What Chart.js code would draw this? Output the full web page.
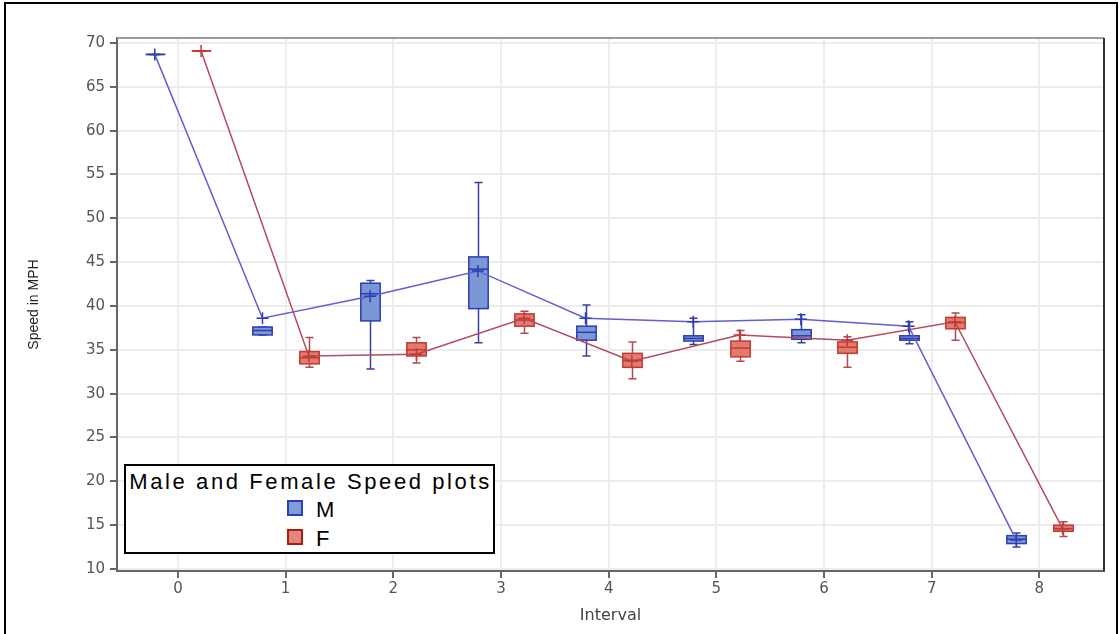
<!DOCTYPE html>
<html><head><meta charset="utf-8">
<script src="https://cdn.jsdelivr.net/npm/chart.js@4/dist/chart.umd.min.js"></script>
<style>
html,body{margin:0;padding:0;background:#fff;overflow:hidden}
#wrap{position:relative;width:1119px;height:634px;overflow:hidden}
#frame{position:absolute;left:4px;top:2px;width:1114px;height:660px;border:2px solid #000;box-sizing:border-box}
#c{position:absolute;left:0;top:0}
#legend{position:absolute;left:124px;top:464px;width:371px;height:90px;border:2px solid #000;box-sizing:border-box;background:#fff;font-family:Arial,"Liberation Sans",sans-serif;color:#000}
#legend .t{position:absolute;left:0;top:3px;width:100%;text-align:center;font-size:22px;letter-spacing:2.6px;white-space:nowrap;text-indent:2px}
#legend .it{position:absolute;left:161px;font-size:22px;line-height:22px}
#legend .sw{display:inline-block;width:12px;height:12px;border:2px solid;vertical-align:middle;margin-right:13px;position:relative;top:-3px}
</style></head>
<body>
<div id="wrap">
<canvas id="c" width="1119" height="634"></canvas>
<div id="frame"></div>
<div id="legend">
  <div class="t">Male and Female Speed plots</div>
  <div class="it" style="top:33px"><span class="sw" style="background:#7f9ed8;border-color:#2a3fb8"></span>M</div>
  <div class="it" style="top:62px"><span class="sw" style="background:#e4877a;border-color:#a81c1c"></span>F</div>
</div>
</div>
<script>
const intervals = [0, 1, 2, 3, 4, 5, 6, 7, 8];
const yTicks = [10, 15, 20, 25, 30, 35, 40, 45, 50, 55, 60, 65, 70];
const seriesNames = ["M", "F"];

const maleMean   = [68.7, 38.6, 41.1, 44.0, 38.6, 38.2, 38.5, 37.7, 13.3];
const maleMedian = [68.7, 37.2, 41.4, 44.2, 37.0, 36.3, 36.6, 36.3, 13.4];
const maleQ1     = [68.7, 36.7, 38.3, 39.7, 36.1, 36.0, 36.2, 36.1, 12.9];
const maleQ3     = [68.7, 37.6, 42.6, 45.6, 37.7, 36.6, 37.3, 36.6, 13.8];
const maleMin    = [68.7, 36.7, 32.8, 35.8, 34.3, 35.6, 35.8, 35.7, 12.5];
const maleMax    = [68.7, 37.6, 42.9, 54.1, 40.1, 38.6, 39.0, 38.2, 14.1];

const femaleMean   = [69.1, 34.3, 34.5, 38.6, 33.7, 36.7, 36.1, 38.2, 14.6];
const femaleMedian = [69.1, 34.1, 35.0, 38.4, 33.8, 35.2, 35.3, 38.1, 14.6];
const femaleQ1     = [69.1, 33.4, 34.3, 37.7, 33.0, 34.2, 34.6, 37.4, 14.3];
const femaleQ3     = [69.1, 34.8, 35.8, 39.1, 34.6, 36.0, 35.9, 38.7, 15.0];
const femaleMin    = [69.1, 33.0, 33.5, 36.9, 31.7, 33.7, 33.0, 36.1, 13.7];
const femaleMax    = [69.1, 36.4, 36.4, 39.4, 35.9, 37.2, 36.5, 39.2, 15.4];

const OFFSET = 0.215;
const groups = [
  {offset:-OFFSET, mean:maleMean, med:maleMedian, q1:maleQ1, q3:maleQ3, lo:maleMin, hi:maleMax,
   fill:'#7b97d6', border:'#2b3db4', whisker:'#3a3f9e', line:'#5f5fd2'},
  {offset:OFFSET, mean:femaleMean, med:femaleMedian, q1:femaleQ1, q3:femaleQ3, lo:femaleMin, hi:femaleMax,
   fill:'#e37a6c', border:'#c23a34', whisker:'#b04a52', line:'#b44a5c'}
];

const boxPlugin = {
  id:'boxes',
  beforeDatasetsDraw(chart){
    const {ctx, scales:{x, y}} = chart;
    const bw = x.getPixelForValue(0.18) - x.getPixelForValue(0);
    const cw = x.getPixelForValue(0.075) - x.getPixelForValue(0);
    ctx.save();
    groups.forEach(g=>{
      intervals.forEach((iv,i)=>{
        const cx = Math.round(x.getPixelForValue(iv + g.offset)) + 0.5;
        const p = v => y.getPixelForValue(v);
        const yq1=p(g.q1[i]), yq3=p(g.q3[i]), ylo=p(g.lo[i]), yhi=p(g.hi[i]), ym=p(g.med[i]);
        ctx.strokeStyle = g.whisker; ctx.lineWidth = 1.5;
        ctx.beginPath();
        ctx.moveTo(cx, yq3); ctx.lineTo(cx, yhi);
        ctx.moveTo(cx-cw/2, yhi); ctx.lineTo(cx+cw/2, yhi);
        ctx.moveTo(cx, yq1); ctx.lineTo(cx, ylo);
        ctx.moveTo(cx-cw/2, ylo); ctx.lineTo(cx+cw/2, ylo);
        ctx.stroke();
        ctx.fillStyle = g.fill;
        ctx.fillRect(cx-bw/2, yq3, bw, yq1-yq3);
        ctx.strokeStyle = g.border; ctx.lineWidth = 1.5;
        ctx.strokeRect(cx-bw/2, yq3, bw, yq1-yq3);
        ctx.beginPath(); ctx.moveTo(cx-bw/2, ym); ctx.lineTo(cx+bw/2, ym); ctx.stroke();
      });
    });
    ctx.restore();
  },
  afterDraw(chart){
    const {ctx, chartArea:a} = chart;
    ctx.save();
    ctx.strokeStyle = '#9a9a9a'; ctx.lineWidth = 2;
    ctx.beginPath(); ctx.moveTo(a.left, a.top); ctx.lineTo(a.right, a.top); ctx.stroke();
    ctx.strokeStyle = '#333'; ctx.lineWidth = 2;
    ctx.beginPath(); ctx.moveTo(a.right, a.top); ctx.lineTo(a.right, a.bottom); ctx.stroke();
    ctx.restore();
  }
};

const datasets = groups.map((g,k)=>({
  label: seriesNames[k],
  data: intervals.map((iv,i)=>({x: iv + g.offset, y: g.mean[i]})),
  borderColor: g.line, backgroundColor: g.line,
  borderWidth: 1.5, showLine: true,
  pointStyle: 'cross', pointRadius: 6, pointBorderWidth: 1.5,
  pointBorderColor: g.border, pointHoverRadius: 6
}));

const tickFont = {family:'"DejaVu Sans", Arial, sans-serif', size:15};
new Chart(document.getElementById('c'), {
  type:'scatter',
  data:{datasets},
  options:{
    responsive:false, animation:false, devicePixelRatio:1,
    layout:{padding:{left:0, right:15, top:38, bottom:0}},
    plugins:{legend:{display:false}, tooltip:{enabled:false}},
    scales:{
      x:{type:'linear', min:-0.566, max:8.6,
        afterBuildTicks(s){ s.ticks = intervals.map(v=>({value:v})); },
        afterFit(s){ s.height = 63; },
        grid:{color:'#ececec', lineWidth:2, tickColor:'#666', tickLength:7, tickWidth:2},
        border:{color:'#666', width:2},
        ticks:{color:'#555', font:tickFont, padding:2, maxRotation:0},
        title:{display:true, text:'Interval', color:'#444', font:{family:'"DejaVu Sans", Arial, sans-serif', size:16}, padding:{top:0, bottom:9}}
      },
      y:{type:'linear', min:9.77, max:70.57,
        afterBuildTicks(s){ s.ticks = yTicks.map(v=>({value:v})); },
        afterFit(s){ s.width = 117; },
        grid:{color:'#ececec', lineWidth:2, tickColor:'#666', tickLength:7, tickWidth:2},
        border:{color:'#666', width:2},
        ticks:{color:'#555', font:tickFont, padding:5},
        title:{display:true, text:'Speed in MPH', color:'#222', font:{family:'Arial, "Liberation Sans", sans-serif', size:14}, padding:{top:26, bottom:0}}
      }
    }
  },
  plugins:[boxPlugin]
});
</script>
</body></html>
